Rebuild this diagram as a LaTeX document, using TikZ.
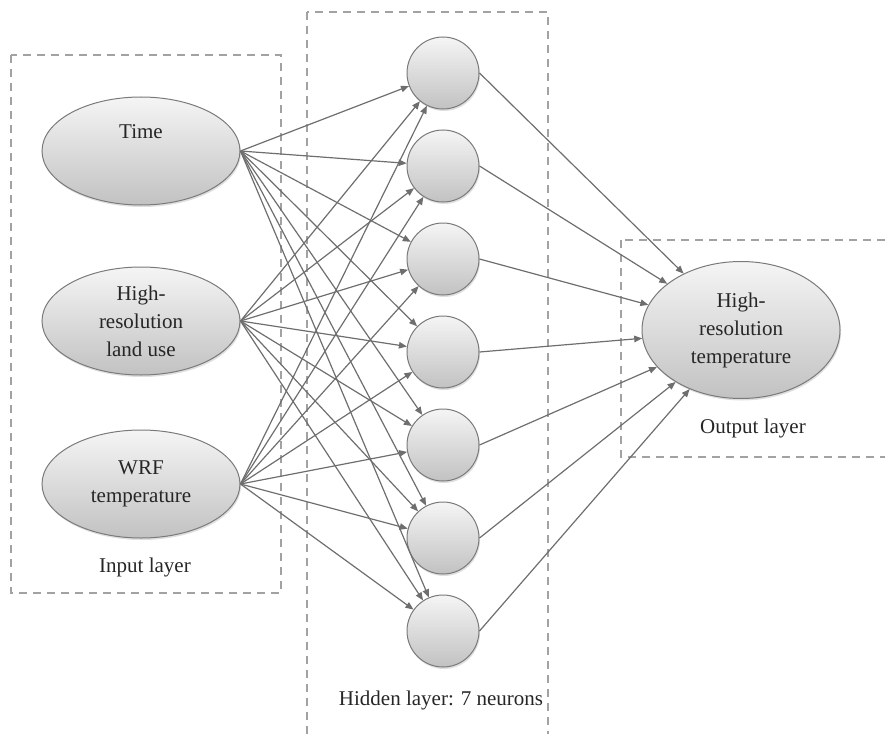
\documentclass[tikz,border=0pt]{standalone}
\usepackage{fontspec}
\setmainfont{Liberation Serif}
\usepackage{tikz}
\usepackage{xcolor}
\usetikzlibrary{shapes.geometric,arrows.meta,shadows}
\definecolor{boxgray}{HTML}{A2A2A2}
\definecolor{linegray}{HTML}{6E6E6E}
\definecolor{rimgray}{HTML}{7A7A7A}
\tikzset{
    layer-box/.style = {draw=boxgray, line width=1.6pt, dash pattern=on 8pt off 6pt},
    neuron-fill/.style = {draw=rimgray, line width=1pt, top color=gray!8, bottom color=gray!48,
        drop shadow={opacity=0.25, shadow xshift=1pt, shadow yshift=-2pt}},
    input-node/.style = {neuron-fill, ellipse, minimum width=198pt, minimum height=108pt, inner sep=0pt,
        align=center, font=\fontsize{21}{28}\selectfont, text=black!85},
    output-node/.style = {input-node, minimum height=137pt},
    hidden-node/.style = {neuron-fill, circle, minimum size=72pt, inner sep=0pt},
    layer-label/.style = {font=\fontsize{21}{28}\selectfont, text=black!85},
    conn/.style = {draw=linegray, line width=1.2pt, -{Triangle[length=8pt,width=6.5pt]}},
}
\begin{document}
\begin{tikzpicture}[x=1pt,y=-1pt]
\useasboundingbox (0,0) rectangle (885,733);
% layer frames
\draw[layer-box] (11,55) rectangle (281,593);
\draw[layer-box] (307,12) rectangle (548,745);
\draw[layer-box] (621,240) rectangle (900,457);
% input layer
\node[input-node] (time) at (141,151) {\raisebox{13pt}[0pt][0pt]{Time}};
\node[input-node] (land) at (141,321) {High-\\resolution\\land use};
\node[input-node] (wrf) at (141,484) {WRF\\temperature};
\node[layer-label] (inlabel) at (145,567) {Input layer};
% hidden layer
\foreach \i/\y in {1/73,2/166,3/259,4/352,5/445,6/538,7/631}
    \node[hidden-node] (h\i) at (443,\y) {};
\node[layer-label] (hidlabel) at (441,700) {Hidden layer: 7 neurons};
% output layer
\node[output-node] (out) at (741,330) {High-\\resolution\\temperature};
\node[layer-label] (outlabel) at (753,428) {Output layer};
% connections
\foreach \src in {time,land,wrf}
    \foreach \i in {1,...,7}
        \draw[conn] (\src.east) -- (h\i);
\foreach \i in {1,...,7}
    \draw[conn] (h\i.east) -- (out);
\end{tikzpicture}
\end{document}
